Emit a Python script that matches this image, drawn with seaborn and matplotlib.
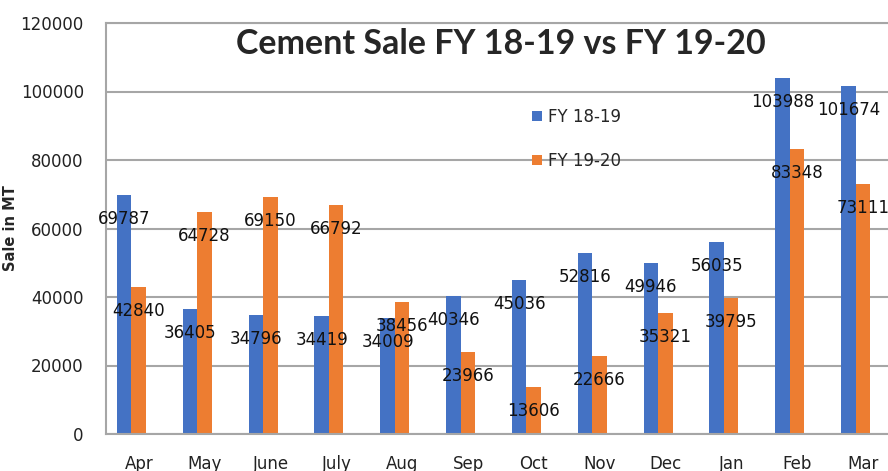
import matplotlib
matplotlib.use("Agg")
import matplotlib.pyplot as plt
import seaborn as sns
import pandas as pd
import numpy as np

months = ["Apr", "May", "June", "July", "Aug", "Sep", "Oct", "Nov", "Dec", "Jan", "Feb", "Mar"]
fy1819 = [69787, 36405, 34796, 34419, 34009, 40346, 45036, 52816, 49946, 56035, 103988, 101674]
fy1920 = [42840, 64728, 69150, 66792, 38456, 23966, 13606, 22666, 35321, 39795, 83348, 73111]
series_names = ["FY 18-19", "FY 19-20"]
colors = ["#4472C4", "#ED7D31"]
yticks = [0, 20000, 40000, 60000, 80000, 100000, 120000]

df = pd.DataFrame({
    "Month": months * 2,
    "Sale": fy1819 + fy1920,
    "Series": [series_names[0]] * len(months) + [series_names[1]] * len(months),
})

sns.set_theme(style="white")
plt.rcParams['font.family'] = ['DejaVu Sans']

fig = plt.figure(figsize=(8.88, 4.71), dpi=100)
ax = fig.add_axes([106/888, 1-434/471, 790/888, (434-23)/471])

sns.barplot(data=df, x="Month", y="Sale", hue="Series", order=months,
            hue_order=series_names, palette=colors, width=0.44, gap=0,
            saturation=1, ax=ax, zorder=2, edgecolor="none")

# data labels
for cont in ax.containers:
    for bar in cont:
        h = bar.get_height()
        ax.annotate(f"{int(round(h))}", (bar.get_x() + bar.get_width()/2, h),
                    xytext=(0, -24), textcoords="offset pixels",
                    ha="center", va="center", fontsize=12, color="#111111", zorder=5)

off = 0.114
ax.set_xlim(-0.5 + off, 11.5 + off)
ax.set_ylim(0, 120000)
ax.set_yticks(yticks)
ax.set_yticklabels([str(v) for v in yticks], fontsize=12, color="#222222")
ax.yaxis.grid(True, color="#a6a6a6", linewidth=1.5, zorder=0)
ax.set_axisbelow(True)
ax.tick_params(axis="y", length=0, pad=16)

ax.set_xticks(np.arange(len(months)) + off)
ax.set_xticklabels(months, fontsize=12, color="#222222")
ax.set_xticks(np.arange(len(months) + 1) - 0.5 + off, minor=True)
ax.tick_params(axis="x", which="major", length=0, pad=15)
ax.tick_params(axis="x", which="minor", length=6, width=1.5, color="#a6a6a6", direction="out")

for s in ["left", "bottom", "top"]:
    ax.spines[s].set_color("#a6a6a6")
    ax.spines[s].set_linewidth(1.5)
ax.spines["right"].set_visible(False)

ax.set_xlabel("")
ax.set_ylabel("Sale in MT", fontsize=10.5, fontweight="bold", labelpad=4)
ax.yaxis.set_label_coords(-0.112, 0.5)

leg = ax.legend(loc="upper left", bbox_to_anchor=(0.52, 0.83), frameon=False,
                fontsize=12, handlelength=0.6, handleheight=0.6, labelspacing=1.55,
                handletextpad=0.4)

fig.text(501/888, 1-44/471, "Cement Sale FY 18-19 vs FY 19-20", ha="center", va="center",
         fontsize=24.5, fontweight="bold", family=["Lato", "DejaVu Sans"])

fig.savefig("out.png", dpi=100)
